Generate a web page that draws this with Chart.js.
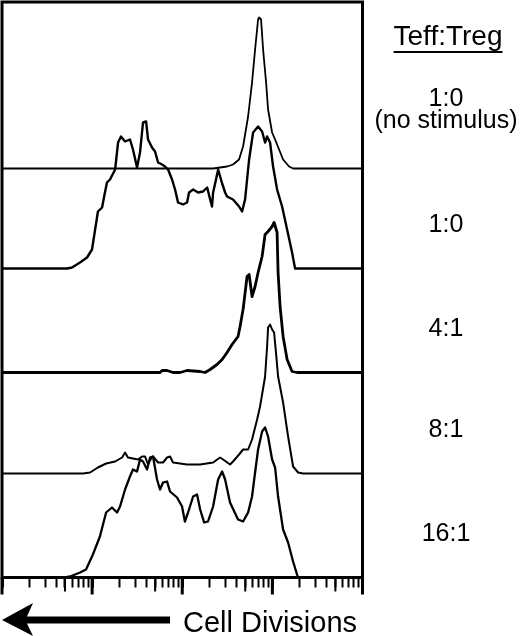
<!DOCTYPE html>
<html lang="en">
<head>
<meta charset="UTF-8">
<title>Teff:Treg CFSE dilution</title>
<script src="https://cdn.jsdelivr.net/npm/chart.js@4"></script>
<style>
  html, body { margin: 0; padding: 0; background: #fff; }
  #chart { display: block; }
</style>
</head>
<body>
<canvas id="chart" width="520" height="636"></canvas>
<script>
// CFSE intensity (x, log axis) and event counts (y)
const noStimX = [1, 220, 314, 366, 427, 473, 538, 595, 643, 694, 712, 749, 789, 852, 896, 993, 1072, 1187, 1315, 1533, 1697, 10000];
const noStimY = [0, 0, 2, 4, 9, 22, 52, 86, 119, 149, 151, 149, 119, 86, 59, 36, 29, 19, 9, 2, 0, 0];

const stimX = [1, 5.27, 5.98, 7.34, 8.78, 9.97, 10.8, 11.6, 12.9, 13.6, 14.6, 15.8, 18.0, 19.4, 20.9, 23.2, 26.3, 28.4, 31.5, 34.0,
  36.7, 39.7, 41.7, 46.2, 49.9, 53.9, 59.7, 64.4, 69.6, 77.1, 83.2, 89.8, 102, 113, 119, 132, 150, 170, 189, 204,
  214, 220, 237, 250, 277, 299, 314, 366, 427, 461, 498, 524, 552, 611, 694, 769, 830, 874, 943, 1018,
  1128, 1282, 1457, 1654, 1786, 10000];
const stimY = [0, 0, 1, 6, 11, 19, 39, 57, 61, 72, 86, 89, 99, 126, 132, 127, 129, 119, 101, 116,
  146, 147, 129, 121, 117, 106, 104, 102, 99, 89, 79, 66, 64, 66, 76, 79, 76, 77, 81, 69,
  62, 76, 89, 99, 85, 76, 72, 69, 62, 57, 69, 89, 109, 136, 142, 137, 126, 132, 126, 102,
  79, 62, 39, 16, 0, 0];

const ratio4X = [1, 56.7, 59.7, 67.8, 79.0, 94.5, 113, 158, 179, 204, 243, 277, 314, 357, 416, 438, 473, 524, 552, 595,
  643, 694, 769, 830, 896, 993, 1045, 1128, 1157, 1218, 1315, 1457, 1654, 1880, 10000];
const ratio4Y = [0, 0, 2, 2, 0, 0, 2, 1, 0, 3, 8, 13, 20, 28, 36, 46, 63, 96, 98, 76,
  86, 100, 116, 138, 141, 146, 150, 140, 100, 66, 36, 13, 1, 0, 0];

const ratio8X = [1, 7.93, 9.48, 11.6, 14.3, 18.0, 21.5, 23.2, 25.0, 28.4, 32.3, 35.8, 38.7, 41.7, 45.1, 47.4, 53.9, 61.2, 67.8, 73.2,
  79.0, 113, 158, 220, 263, 284, 339, 366, 427, 473, 538, 595, 677, 730, 789, 830, 874, 896, 943, 993,
  1045, 1099, 1157, 1315, 1494, 1697, 1929, 2192, 10000];
const ratio8Y = [0, 0, 1, 6, 10, 12, 16, 21, 16, 15, 14, 17, 17, 9, 15, 17, 11, 11, 16, 17,
  11, 9, 9, 11, 16, 14, 9, 12, 19, 24, 24, 34, 54, 67, 85, 97, 127, 146, 149, 144,
  141, 120, 97, 71, 37, 7, 1, 0, 0];

const ratio16X = [1, 5.00, 5.69, 7.34, 8.56, 10.2, 12.2, 14.3, 16.6, 18.9, 20.4, 23.2, 26.3, 28.4, 31.5, 34.0, 36.7, 40.7, 43.9, 47.4,
  52.5, 56.7, 61.2, 67.8, 73.2, 87.6, 99.5, 107, 116, 132, 146, 158, 175, 193, 220, 250, 277, 299, 339, 416,
  473, 538, 595, 643, 694, 769, 830, 896, 993, 1072, 1157, 1315, 1494, 1697, 1880, 1929, 10000];
const ratio16Y = [0, 0, 1, 5, 8, 23, 41, 65, 70, 65, 71, 88, 101, 108, 106, 118, 116, 108, 120, 121,
  98, 88, 95, 96, 86, 80, 71, 56, 65, 81, 83, 68, 55, 56, 71, 98, 106, 98, 75, 58,
  56, 65, 81, 105, 128, 146, 150, 141, 118, 110, 81, 48, 35, 16, 3, 0, 0];

// vertical offset of each histogram (same units as counts), top to bottom
const stackOffsets = [409, 309, 205, 104, 0];
const ratioLabels = [["1:0", "(no stimulus)"], ["1:0"], ["4:1"], ["8:1"], ["16:1"]];
const legendTitle = "Teff:Treg";
const axisTitle = "Cell Divisions";
const xTicks = [1, 2, 3, 4, 5, 6, 7, 8, 9, 10, 20, 30, 40, 50, 60, 70, 80, 90,
  100, 200, 300, 400, 500, 600, 700, 800, 900, 1000, 2000, 3000, 4000, 5000, 6000, 7000, 8000, 9000, 10000];

const seriesX = [noStimX, stimX, ratio4X, ratio8X, ratio16X];
const seriesY = [noStimY, stimY, ratio4Y, ratio8Y, ratio16Y];
const lineWidths = [1.8, 2.4, 2.8, 2.0, 2.3];

const isDecade = v => /^10*$/.test(String(v));
const isFive = v => /^50*$/.test(String(v));

const FONT = '"Liberation Sans", Arial, Helvetica, sans-serif';

const decorations = {
    id: "decorations",
    afterDraw(chart) {
        const { ctx, chartArea: a, scales: { x, y } } = chart;
        ctx.save();
        ctx.strokeStyle = "#000";
        ctx.fillStyle = "#000";

        // frame
        ctx.lineWidth = 3;
        ctx.strokeRect(a.left, a.top, a.right - a.left, a.bottom - a.top);

        // longer marks at decades and at the 5s
        x.ticks.forEach(t => {
            const px = x.getPixelForValue(t.value);
            if (isDecade(t.value)) {
                ctx.lineWidth = 3;
                ctx.beginPath(); ctx.moveTo(px, a.bottom); ctx.lineTo(px, a.bottom + 17); ctx.stroke();
            } else if (isFive(t.value)) {
                ctx.lineWidth = 2;
                ctx.beginPath(); ctx.moveTo(px, a.bottom); ctx.lineTo(px, a.bottom + 14); ctx.stroke();
            }
        });

        // ratio labels on the right
        const cx = 446;
        ctx.textAlign = "center";
        ctx.textBaseline = "alphabetic";
        ctx.font = "28px " + FONT;
        ctx.fillText(legendTitle, 448, 45);
        const w = ctx.measureText(legendTitle).width;
        ctx.lineWidth = 2;
        ctx.beginPath(); ctx.moveTo(448 - w / 2, 52); ctx.lineTo(448 + w / 2, 52); ctx.stroke();

        ctx.font = "25px " + FONT;
        ratioLabels.forEach((lines, i) => {
            const base = y.getPixelForValue(stackOffsets[i]);
            if (lines.length === 2) {
                ctx.fillText(lines[0], cx, base - 63);
                ctx.fillText(lines[1], cx, base - 41);
            } else {
                ctx.fillText(lines[0], cx, base - 37);
            }
        });

        // arrow and axis caption
        ctx.beginPath();
        ctx.moveTo(2, 620);
        ctx.lineTo(33, 603);
        ctx.lineTo(27, 616.5);
        ctx.lineTo(170, 616.5);
        ctx.lineTo(170, 623.5);
        ctx.lineTo(27, 623.5);
        ctx.lineTo(33, 636);
        ctx.closePath();
        ctx.fill();

        ctx.textAlign = "left";
        ctx.font = "29px " + FONT;
        ctx.fillText(axisTitle, 183, 632);
        ctx.restore();
    }
};

new Chart(document.getElementById("chart"), {
    type: "line",
    data: {
        datasets: seriesX.map((xs, i) => ({
            data: xs.map((v, j) => ({ x: v, y: seriesY[i][j] + stackOffsets[i] })),
            borderColor: "#000",
            borderWidth: lineWidths[i],
            pointRadius: 0,
            tension: 0,
            fill: false,
        })),
    },
    options: {
        responsive: false,
        animation: false,
        devicePixelRatio: 1,
        layout: { padding: { left: 2, top: 2, right: 157.5, bottom: 58.5 } },
        plugins: { legend: { display: false }, tooltip: { enabled: false } },
        elements: { line: { borderJoinStyle: "round", borderCapStyle: "round" } },
        scales: {
            x: {
                type: "logarithmic",
                min: 1,
                max: 10000,
                afterBuildTicks: s => { s.ticks = xTicks.map(v => ({ value: v, major: isDecade(v) })); },
                afterFit: s => { s.height = 0; },
                border: { display: false },
                grid: {
                    display: true,
                    drawOnChartArea: false,
                    drawTicks: true,
                    tickLength: 10,
                    tickColor: "#000",
                    tickWidth: c => (c.tick && c.tick.major ? 3 : 2),
                },
                ticks: { display: false, autoSkip: false },
            },
            y: { display: false, min: 0, max: 575.5 },
        },
    },
    plugins: [decorations],
});
</script>
</body>
</html>
